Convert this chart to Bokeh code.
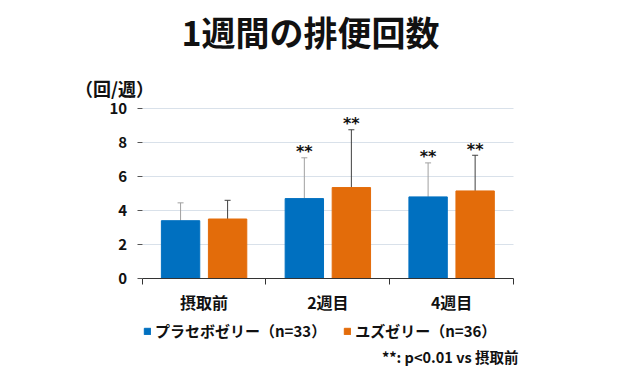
from bokeh.plotting import figure
from bokeh.models import (ColumnDataSource, FixedTicker, Whisker, TeeHead, Label,
                          Legend, LegendItem)
from bokeh.core.properties import value
from bokeh.embed import file_html
from bokeh.resources import INLINE

# ---- data ----
categories = ["摂取前", "2週目", "4週目"]
placebo_mean = [3.4, 4.7, 4.8]
placebo_sd = [1.05, 2.4, 2.0]
yuzu_mean = [3.5, 5.35, 5.15]
yuzu_sd = [1.1, 3.4, 2.1]
placebo_mark = ["", "**", "**"]
yuzu_mark = ["", "**", "**"]
series_names = ["プラセボゼリー（n=33）", "ユズゼリー（n=36）"]
y_ticks = [0, 2, 4, 6, 8, 10]
title_text = "1週間の排便回数"
y_unit = "（回/週）"
footnote = "**: p<0.01 vs 摂取前"

BLUE = "#0070C0"
ORANGE = "#E36C0A"
FONT = "Noto Sans CJK JP"

W, H = 609, 368
# plot area in figure pixels
PL, PR, PT, PB = 141.7, 513.0, 108.0, 278.0
ncat = len(categories)
ymin_v, ymax_v = y_ticks[0], y_ticks[-1]
ux = (PR - PL) / ncat
uy = (PB - PT) / (ymax_v - ymin_v)
x_range = (-PL / ux, ncat + (W - PR) / ux)
y_range = (ymin_v - (H - PB) / uy, ymax_v + PT / uy)


def dx(px):
    return x_range[0] + px / ux


def dy(py):
    return y_range[1] - py / uy


centers = [i + 0.5 for i in range(ncat)]
off = 0.19
bw = 0.31

src_p = ColumnDataSource(dict(
    x=[c - off for c in centers], mean=placebo_mean,
    top=[m + s for m, s in zip(placebo_mean, placebo_sd)], mark=placebo_mark))
src_y = ColumnDataSource(dict(
    x=[c + off for c in centers], mean=yuzu_mean,
    top=[m + s for m, s in zip(yuzu_mean, yuzu_sd)], mark=yuzu_mark))

p = figure(width=W, height=H, x_range=x_range, y_range=y_range,
           output_backend="svg", toolbar_location=None,
           min_border=0)
p.outline_line_color = None
p.background_fill_color = "white"
p.xgrid.visible = False
grid = p.ygrid[0]
grid.grid_line_color = "#D9E1EA"
grid.grid_line_width = 1
if "cross_bounds" in grid.properties():
    grid.cross_bounds = (0, ncat)
else:
    grid.visible = False
    p.segment(x0=[0] * len(y_ticks), x1=[ncat] * len(y_ticks), y0=y_ticks, y1=y_ticks,
              line_color="#D9E1EA", line_width=1, level="underlay")

# x axis
xa = p.xaxis[0]
xa.fixed_location = 0
xa.bounds = (0, ncat)
xa.ticker = FixedTicker(ticks=centers, minor_ticks=list(range(ncat + 1)))
xa.major_label_overrides = {c: n for c, n in zip(centers, categories)}
xa.major_tick_line_color = None
xa.major_tick_out = 6
xa.major_tick_in = 0
xa.minor_tick_out = 6
xa.minor_tick_in = 0
xa.minor_tick_line_color = "#333333"
xa.axis_line_color = "#333333"
xa.major_label_standoff = 5
xa.major_label_text_font = FONT
xa.major_label_text_font_style = "bold"
xa.major_label_text_font_size = "16px"
xa.major_label_text_color = "#111111"

# y axis
ya = p.yaxis[0]
ya.fixed_location = 0
ya.bounds = (ymin_v, ymax_v)
ya.ticker = FixedTicker(ticks=y_ticks)
ya.axis_line_color = None
ya.major_tick_out = 5
ya.major_tick_in = 0
ya.major_tick_line_color = "#555555"
ya.minor_tick_line_color = None
ya.major_label_standoff = 10
ya.major_label_text_font = FONT
ya.major_label_text_font_style = "bold"
ya.major_label_text_font_size = "15px"
ya.major_label_text_color = "#111111"

r1 = p.vbar(x="x", top="mean", width=bw, source=src_p, fill_color=BLUE, line_color=BLUE)
r2 = p.vbar(x="x", top="mean", width=bw, source=src_y, fill_color=ORANGE, line_color=ORANGE)

w1 = Whisker(base="x", lower="mean", upper="top", source=src_p, dimension="height",
             line_color="#A0A0A0", line_width=1, lower_head=None,
             upper_head=TeeHead(size=6, line_color="#A0A0A0", line_width=1))
w2 = Whisker(base="x", lower="mean", upper="top", source=src_y, dimension="height",
             line_color="#404040", line_width=1, lower_head=None,
             upper_head=TeeHead(size=6, line_color="#404040", line_width=1))
p.add_layout(w1)
p.add_layout(w2)

for src in (src_p, src_y):
    p.text(x="x", y="top", text="mark", source=src, text_align="center",
           text_baseline="alphabetic", text_font=value("DejaVu Sans"),
           text_font_style="bold", text_font_size="16px",
           text_color="#111111", y_offset=-6)

legend = Legend(items=[LegendItem(label=series_names[0], renderers=[r1]),
                       LegendItem(label=series_names[1], renderers=[r2])],
                orientation="horizontal", location=(143, 27),
                border_line_color=None, background_fill_alpha=0,
                glyph_width=8, glyph_height=8, label_standoff=4, spacing=17,
                padding=0, margin=0,
                label_text_font=FONT, label_text_font_style="bold",
                label_text_font_size="15px", label_text_color="#111111")
p.add_layout(legend)

p.add_layout(Label(x=dx(310), y=dy(31), text=title_text, text_align="center",
                   text_baseline="middle", text_font=FONT, text_font_style="bold",
                   text_font_size="34px", text_color="#111111"))
p.add_layout(Label(x=dx(114), y=dy(87), text=y_unit, text_align="center",
                   text_baseline="middle", text_font=FONT, text_font_style="bold",
                   text_font_size="18px", text_color="#111111"))
p.add_layout(Label(x=dx(518), y=dy(356), text=footnote, text_align="right",
                   text_baseline="middle", text_font=FONT, text_font_style="bold",
                   text_font_size="14.5px", text_color="#111111"))

open("out.html", "w").write(file_html(p, INLINE))
